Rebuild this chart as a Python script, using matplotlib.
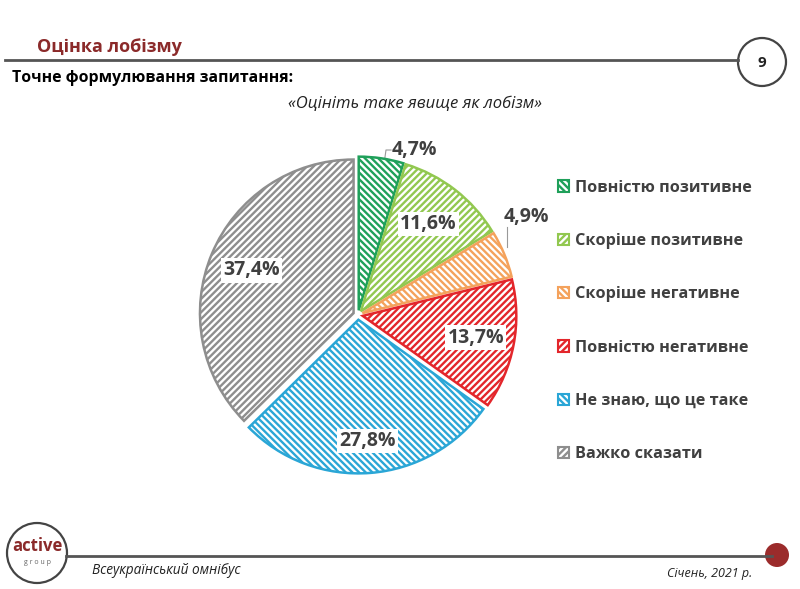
import numpy as np
import matplotlib
matplotlib.use("Agg")
import matplotlib.pyplot as plt
from matplotlib.patches import Circle, Patch

plt.rcParams['font.family'] = ['Open Sans', 'DejaVu Sans']
plt.rcParams['hatch.linewidth'] = 1.7

# ------------------------------------------------
# Data
# ------------------------------------------------

categories = ["Повністю позитивне", "Скоріше позитивне", "Скоріше негативне",
              "Повністю негативне", "Не знаю, що це таке", "Важко сказати"]
values = [4.7, 11.6, 4.9, 13.7, 27.8, 37.4]

colors = ["#1fa05a", "#92c850", "#f4a25c", "#e3262b", "#2aa6d6", "#8e8e8e"]
hatches = ["\\\\\\\\\\", "/////", "\\\\\\\\\\", "/////", "\\\\\\\\\\", "/////"]

title = "Оцінка лобізму"
question_head = "Точне формулювання запитання:"
question = "«Оцініть таке явище як лобізм»"
footer_left = "Всеукраїнський омнібус"
footer_right = "Січень, 2021 р."
page_no = "9"

TEXT = "#404040"
DARK_RED = "#8b2a2a"


def fmt(v):
    return f"{v:.1f}%".replace(".", ",")


fig = plt.figure(figsize=(8, 5.89), dpi=100)

# ------------------------------------------------
# Page decoration in pixel coords
# ------------------------------------------------

bg = fig.add_axes([0, 0, 1, 1])
bg.set_xlim(0, 800)
bg.set_ylim(589, 0)
bg.axis("off")

bg.text(37, 47, title, fontsize=13, fontweight="bold", color=DARK_RED, va="center")
bg.plot([5, 738], [60, 60], color="#555555", lw=2)
bg.add_patch(Circle((762, 62), 24, facecolor="white", edgecolor="#444444", lw=1.6))
bg.text(762, 63, page_no, fontsize=11, fontweight="bold", ha="center", va="center", color="#222222")
bg.text(12, 78, question_head, fontsize=11.4, fontweight="bold", color="black", va="center")
bg.text(415, 104, question, fontsize=12, style="italic", color="#222222", ha="center", va="center")

# footer
bg.plot([66, 772], [556, 556], color="#555555", lw=2)
bg.add_patch(Circle((37, 553), 30, facecolor="white", edgecolor="#444444", lw=1.6))
bg.text(37, 546, "active", fontsize=12, fontweight="bold", color=DARK_RED, ha="center", va="center")
bg.text(37, 563, "g r o u p", fontsize=5, color="#666666", ha="center", va="center")
bg.add_patch(Circle((777, 555), 12, facecolor="#9b2b2b", edgecolor="none"))
bg.text(92, 571, footer_left, fontsize=9.8, style="italic", color="#222222", va="center")
bg.text(752, 573, footer_right, fontsize=9, style="italic", color="#222222", va="center", ha="right")

# ------------------------------------------------
# Pie
# ------------------------------------------------

ax = fig.add_axes([182 / 800, 98 / 589, 352 / 800, 352 / 589])
wedges, _ = ax.pie(values, startangle=90, counterclock=False, radius=0.96,
                   explode=[0.03] * len(values),
                   wedgeprops=dict(facecolor="white", linewidth=1.8))
for w, c, h in zip(wedges, colors, hatches):
    w.set_edgecolor(c)
    w.set_hatch(h)
ax.set_xlim(-1.1, 1.1)
ax.set_ylim(-1.1, 1.1)
ax.set_aspect("equal")
ax.axis("off")

label_dist = [None, 0.72, None, 0.75, 0.79, 0.72]
bbox = dict(boxstyle="square,pad=0.12", facecolor="white", edgecolor="none")

for i, (w, v) in enumerate(zip(wedges, values)):
    ang = np.deg2rad((w.theta1 + w.theta2) / 2)
    if label_dist[i] is not None:
        r = label_dist[i]
        ax.text(r * np.cos(ang), r * np.sin(ang), fmt(v), ha="center", va="center",
                fontsize=14, fontweight="bold", color=TEXT, bbox=bbox)

# small slices: labels outside with leader lines (pixel coords)
bg.plot([384, 386, 391], [164, 150, 150], color="#999999", lw=0.8)
bg.text(414, 150, fmt(values[0]), ha="center", va="center",
        fontsize=14, fontweight="bold", color=TEXT, zorder=5)
bg.plot([507, 507], [247, 227], color="#999999", lw=0.8)
bg.text(526, 217, fmt(values[2]), ha="center", va="center",
        fontsize=14, fontweight="bold", color=TEXT, zorder=5)

# ------------------------------------------------
# Legend
# ------------------------------------------------

handles = [Patch(facecolor="white", edgecolor=c, hatch=h, linewidth=1.5)
           for c, h in zip(colors, hatches)]
leg = fig.legend(handles, categories, loc="upper left", bbox_to_anchor=(543 / 800, 1 - 165 / 589),
                 frameon=False, fontsize=11.7, handlelength=0.7, handleheight=0.7,
                 handletextpad=0.35, labelspacing=2.3)
for t in leg.get_texts():
    t.set_color(TEXT)
    t.set_fontweight("bold")

fig.savefig("out.png", dpi=100, facecolor="white")
